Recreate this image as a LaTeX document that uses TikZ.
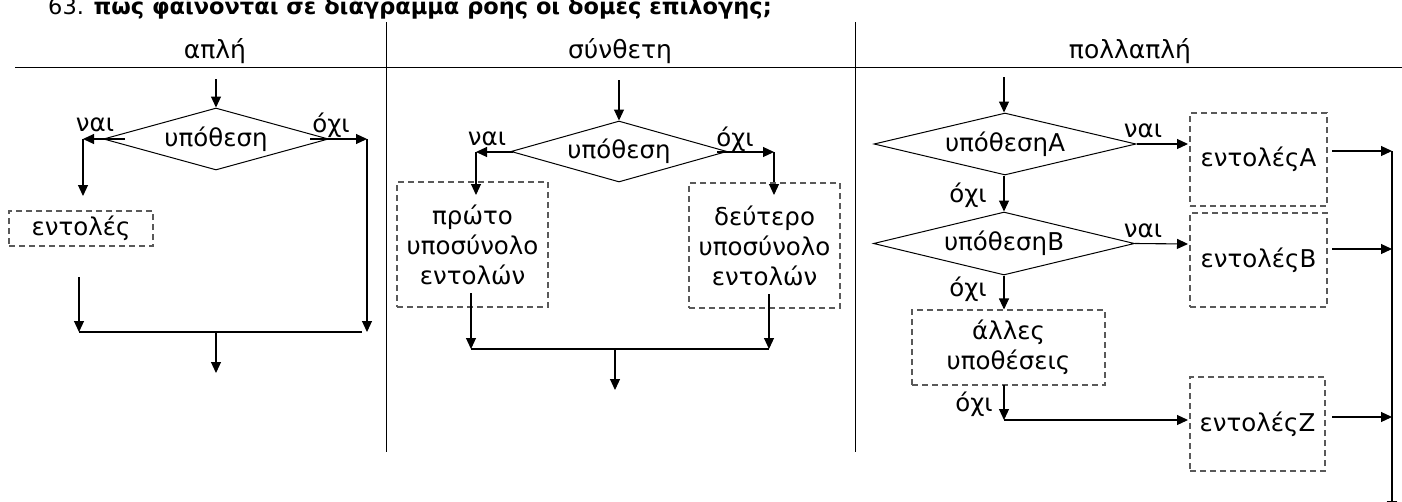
\documentclass[tikz,border=0pt]{standalone}
\usepackage{fontspec}
\setmainfont{DejaVu Sans}
\usetikzlibrary{shapes.geometric,arrows.meta}
\begin{document}
\begin{tikzpicture}[x=1pt,y=-1pt,
  line/.style={draw=black, line width=1.1pt},
  arr/.style={line, -{Triangle[width=10pt,length=11pt]}},
  dbox/.style={draw=black!65, dash pattern=on 6pt off 4pt, line width=1.1pt, inner sep=0pt, align=center, font=\fontsize{24.5}{30}\selectfont},
  dec/.style={draw=black, diamond, line width=1pt, inner sep=0pt, aspect=4, font=\fontsize{24.5}{28}\selectfont},
  lab/.style={inner sep=0pt, font=\fontsize{24.5}{28}\selectfont},
  head/.style={inner sep=0pt, anchor=base, font=\fontsize{25}{28}\selectfont},
  sep/.style={draw=black, line width=1pt}]
\useasboundingbox (0,0) rectangle (1402,501);
\clip (0,0) rectangle (1402,501);
% title and header
\node[anchor=base west, inner sep=0pt, font=\fontsize{22.5}{26}\selectfont] (title) at (48,14) {63. \textbf{πως φαίνονται σε διάγραμμα ροής οι δομές επιλογής;}};
\coordinate (hl) at (15,67); \coordinate (hr) at (1402,67);
\draw[sep] (hl) -- (hr);
\coordinate (s1t) at (386,22); \coordinate (s1b) at (386,452);
\coordinate (s2t) at (855,22); \coordinate (s2b) at (855,452);
\draw[sep] (s1t) -- (s1b);
\draw[sep] (s2t) -- (s2b);
\node[head] (h1) at (215,58) {απλή};
\node[head] (h2) at (620,58) {σύνθετη};
\node[head] (h3) at (1130,58) {πολλαπλή};

% ---------- simple ----------
\coordinate (a0) at (216,79);
\node[dec, minimum width=225pt, minimum height=62pt] (ad) at (216,139) {υπόθεση};
\draw[arr] (a0) -- (ad.north);
\node[lab] (anai) at (95,125) {ναι};
\node[lab] (aoxi) at (331,125) {όχι};
\coordinate (aLs) at (125,139); \coordinate (aL) at (83,139);
\coordinate (aRs) at (310,139); \coordinate (aR) at (367,139);
\coordinate (aLb) at (83,196);
\node[dbox, minimum width=144pt, minimum height=35pt] (ae) at (81,228.5) {εντολές};
\draw[arr] (aLs) -- (aL);
\draw[arr] (aL) -- (aLb);
\coordinate (ae1) at (79,277); \coordinate (aj1) at (79,332);
\coordinate (aj2) at (367,332); \coordinate (aj3) at (362,332);
\coordinate (am) at (216,332); \coordinate (aout) at (216,373);
\draw[arr] (ae1) -- (aj1);
\draw[arr] (aRs) -- (aR);
\draw[arr] (aR) -- (aj2);
\draw[line] (aj1) -- (aj3);
\draw[arr] (am) -- (aout);

% ---------- composite ----------
\coordinate (b0) at (619,80);
\node[dec, minimum width=216pt, minimum height=61pt] (bd) at (619,151.5) {υπόθεση};
\draw[arr] (b0) -- (bd.north);
\node[lab] (bnai) at (487,139) {ναι};
\node[lab] (boxi) at (735,139) {όχι};
\coordinate (bLs) at (513,152); \coordinate (bL) at (476,152); \coordinate (bLb) at (476,195);
\coordinate (bRs) at (717,152); \coordinate (bR) at (774,152); \coordinate (bRb) at (774,195);
\draw[arr] (bLs) -- (bL);
\draw[arr] (bL) -- (bLb);
\draw[arr] (bRs) -- (bR);
\draw[arr] (bR) -- (bRb);
\node[dbox, minimum width=151pt, minimum height=125pt] (b1) at (472.5,244.5) {πρώτο\\υποσύνολο\\εντολών};
\node[dbox, minimum width=151pt, minimum height=125pt] (b2) at (764.5,245.5) {δεύτερο\\υποσύνολο\\εντολών};
\coordinate (b1s) at (471,293); \coordinate (bj1) at (471,349);
\coordinate (b2s) at (769,294); \coordinate (bj2) at (769,349);
\coordinate (bm) at (615,349); \coordinate (bout) at (615,390);
\draw[arr] (b1s) -- (bj1);
\draw[arr] (b2s) -- (bj2);
\draw[line] (bj1) -- (bj2);
\draw[arr] (bm) -- (bout);

% ---------- multiple ----------
\coordinate (c0) at (1004,77);
\node[dec, minimum width=262pt, minimum height=62pt] (cA) at (1005,144) {υπόθεσηA};
\node[dec, minimum width=261pt, minimum height=63pt] (cB) at (1004,243.5) {υπόθεσηB};
\node[dbox, minimum width=193pt, minimum height=75pt] (cO) at (1008.5,347.5) {άλλες\\υποθέσεις};
\node[dbox, minimum width=137pt, minimum height=93pt] (eA) at (1258.5,159.5) {εντολέςA};
\node[dbox, minimum width=137pt, minimum height=94pt] (eB) at (1258.5,260) {εντολέςB};
\node[dbox, minimum width=135pt, minimum height=94pt] (eZ) at (1257.5,424) {εντολέςZ};
\draw[arr] (c0) -- (c0 |- cA.north);
\coordinate (cAe) at (1188,144);
\coordinate (cBe) at (1188,244);
\draw[arr] (cA.east) -- (cAe);
\draw[arr] (cB.east) -- (cBe);
\node[lab] (cnaiA) at (1143,131) {ναι};
\node[lab] (cnaiB) at (1143,231) {ναι};
\node[lab] (coxiA) at (968,195) {όχι};
\node[lab] (coxiB) at (968,289) {όχι};
\node[lab] (coxiC) at (974,404) {όχι};
\draw[arr] (c0 |- cA.south) -- (c0 |- cB.north);
\draw[arr] (c0 |- cB.south) -- (c0 |- cO.north);
\coordinate (cOs) at (1004,385); \coordinate (cOj) at (1004,420); \coordinate (cZe) at (1188,420);
\draw[arr] (cOs) -- (cOj);
\draw[arr] (cOj) -- (cZe);
\coordinate (oA) at (1332,151); \coordinate (oAe) at (1392,151);
\coordinate (oB) at (1332,249); \coordinate (oBe) at (1392,249);
\coordinate (oZ) at (1332,417); \coordinate (oZe) at (1392,417);
\coordinate (oEnd) at (1392,512);
\draw[arr] (oA) -- (oAe);
\draw[arr] (oB) -- (oBe);
\draw[arr] (oZ) -- (oZe);
\draw[arr] (oAe) -- (oEnd);
\end{tikzpicture}
\end{document}
